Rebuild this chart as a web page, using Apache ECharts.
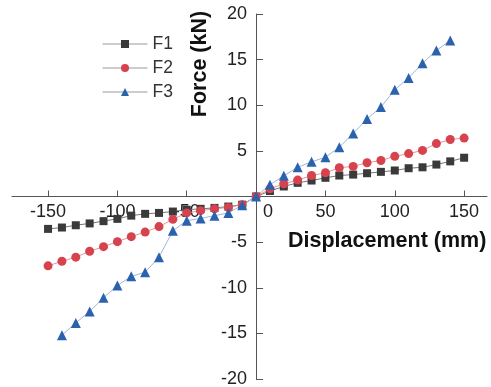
<!DOCTYPE html>
<html>
<head>
<meta charset="utf-8">
<script src="https://cdn.jsdelivr.net/npm/echarts@6/dist/echarts.min.js"></script>
<style>
  html, body { margin: 0; padding: 0; background: #fff; }
  #chart { width: 491px; height: 387px; }
</style>
</head>
<body>
<div id="chart"></div>
<script>
// displacement (mm)
const dispF12 = [-150, -140, -130, -120, -110, -100, -90, -80, -70, -60, -50, -40, -30, -20, -10, 0,
  10, 20, 30, 40, 50, 60, 70, 80, 90, 100, 110, 120, 130, 140, 150];
const dispF3 = [-140, -130, -120, -110, -100, -90, -80, -70, -60, -50, -40, -30, -20, -10, 0,
  10, 20, 30, 40, 50, 60, 70, 80, 90, 100, 110, 120, 130, 140];

// force (kN)
const forceF1 = [-3.55, -3.4, -3.15, -2.95, -2.7, -2.45, -2.1, -1.9, -1.8, -1.65, -1.45, -1.35, -1.25, -1.1, -0.9, 0,
  0.6, 1.1, 1.5, 1.75, 2.05, 2.3, 2.4, 2.55, 2.7, 2.85, 3.1, 3.2, 3.5, 3.85, 4.25];
const forceF2 = [-7.6, -7.1, -6.65, -6.0, -5.5, -4.95, -4.4, -3.9, -3.3, -2.5, -1.8, -1.55, -1.35, -1.2, -0.9, 0,
  0.84, 1.4, 1.8, 2.3, 2.6, 3.15, 3.3, 3.7, 3.95, 4.4, 4.7, 5.05, 5.8, 6.25, 6.4];
const forceF3 = [-15.2, -13.85, -12.6, -11.1, -9.75, -8.75, -8.3, -6.65, -3.75, -2.65, -2.4, -2.1, -1.8, -0.95, 0,
  1.3, 2.27, 3.2, 3.8, 4.3, 5.4, 6.9, 8.5, 9.8, 11.7, 13.0, 14.6, 16.0, 17.1];

const xTicks = [-150, -100, -50, 0, 50, 100, 150];

const pairs = (xs, ys) => xs.map((x, i) => [x, ys[i]]);

// grid box and axis ranges, used to put both axes through the origin
const W = 491, H = 387;
const gL = 12, gR = 4, gT = 14, gB = 8;
const xMin = -176, xMax = 166.5, yMin = -20, yMax = 20;
const zeroX = gL + (0 - xMin) / (xMax - xMin) * (W - gL - gR);
const zeroY = gT + (yMax - 0) / (yMax - yMin) * (H - gT - gB);

const chart = echarts.init(document.getElementById('chart'));

const option = {
  backgroundColor: '#fff',
  animation: false,
  textStyle: { fontFamily: 'Liberation Sans, Arial, sans-serif' },
  grid: { left: gL, right: gR, top: gT, bottom: gB, outerBoundsMode: 'none', containLabel: false },
  legend: {
    orient: 'vertical',
    left: 97,
    top: 30,
    itemWidth: 45,
    itemHeight: 10,
    itemGap: 6,
    textStyle: { fontSize: 17.5, color: '#333', lineHeight: 17 },
    lineStyle: { color: '#999', width: 1 },
    data: ['F1', 'F2', 'F3']
  },
  xAxis: {
    type: 'value',
    min: xMin,
    max: xMax,
    position: 'bottom',
    offset: -(H - gB - zeroY),
    splitLine: { show: false },
    axisLine: { onZero: false, lineStyle: { color: '#555', width: 1 } },
    axisTick: { inside: true, length: 6, customValues: xTicks, lineStyle: { color: '#555' } },
    axisLabel: {
      customValues: xTicks,
      margin: 7,
      fontSize: 18,
      color: '#222',
      formatter: v => v === 0 ? '{z|0}' : String(v),
      rich: { z: { fontSize: 18, color: '#222', padding: [0, 0, 0, 24] } }
    }
  },
  yAxis: {
    type: 'value',
    min: yMin,
    max: yMax,
    interval: 5,
    position: 'left',
    offset: -(zeroX - gL),
    splitLine: { show: false },
    axisLine: { onZero: false, lineStyle: { color: '#555', width: 1 } },
    axisTick: { inside: true, length: 7, lineStyle: { color: '#555' } },
    axisLabel: {
      margin: 9,
      fontSize: 18,
      color: '#222',
      formatter: v => v === 0 ? '' : String(v)
    }
  },
  graphic: [
    {
      type: 'text',
      x: 200,
      y: 64,
      rotation: Math.PI / 2,
      style: {
        text: 'Force (kN)',
        font: 'bold 21.5px Liberation Sans, Arial, sans-serif',
        fill: '#111',
        textAlign: 'center',
        textVerticalAlign: 'middle'
      }
    },
    {
      type: 'text',
      x: 288,
      y: 241,
      style: {
        text: 'Displacement (mm)',
        font: 'bold 21.5px Liberation Sans, Arial, sans-serif',
        fill: '#111',
        textAlign: 'left',
        textVerticalAlign: 'middle'
      }
    }
  ],
  series: [
    {
      name: 'F1',
      type: 'line',
      data: pairs(dispF12, forceF1),
      symbol: 'rect',
      symbolSize: 8,
      itemStyle: { color: '#3a3a3a' },
      lineStyle: { color: '#777', width: 1 }
    },
    {
      name: 'F2',
      type: 'line',
      data: pairs(dispF12, forceF2),
      symbol: 'circle',
      symbolSize: 9,
      itemStyle: { color: '#d6424e' },
      lineStyle: { color: '#e3959b', width: 1 }
    },
    {
      name: 'F3',
      type: 'line',
      data: pairs(dispF3, forceF3),
      symbol: 'triangle',
      symbolSize: 10,
      itemStyle: { color: '#2a62ad' },
      lineStyle: { color: '#9cb8dc', width: 1 }
    }
  ]
};

chart.setOption(option);
</script>
</body>
</html>
